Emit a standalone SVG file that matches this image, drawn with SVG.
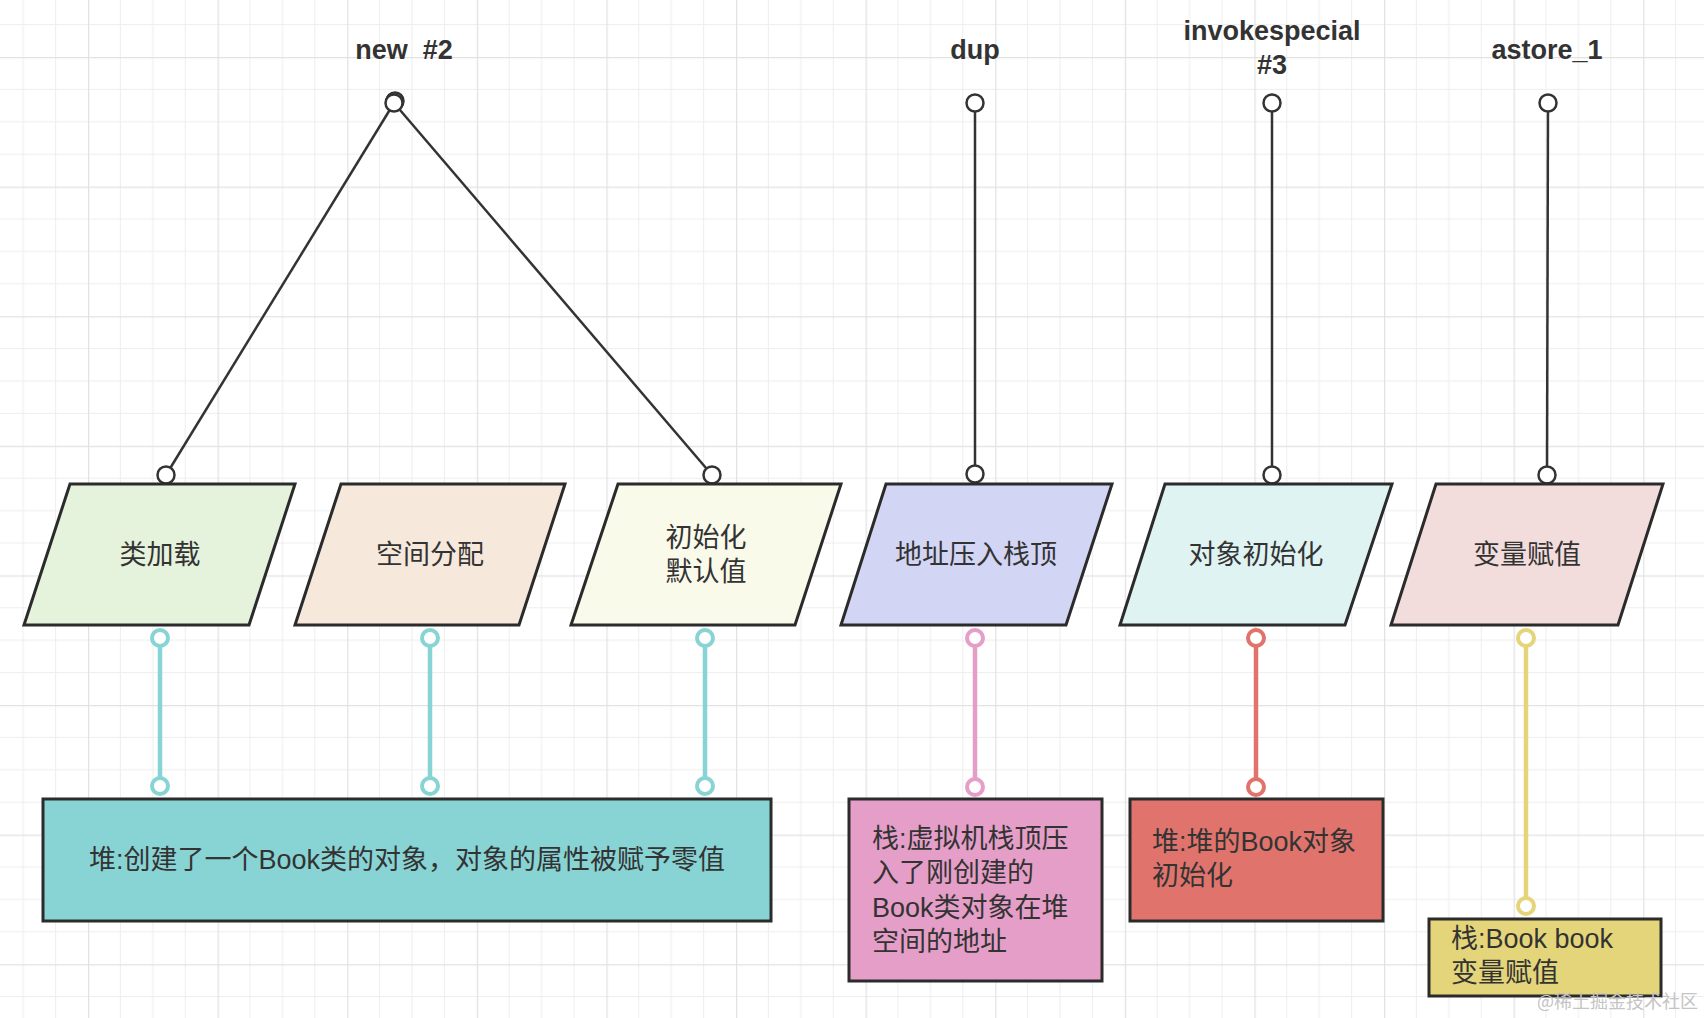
<svg xmlns="http://www.w3.org/2000/svg" width="1704" height="1018" viewBox="0 0 1704 1018">
<style>
.lbl{font-family:"Liberation Sans","Noto Sans CJK SC",sans-serif;font-weight:bold;font-size:27px;fill:#333;text-anchor:middle}
.t{font-family:"Liberation Sans","Noto Sans CJK SC",sans-serif;font-size:27px;fill:#333}
.c{text-anchor:middle}
.shape{stroke:#2b2b2b;stroke-width:3;stroke-linejoin:miter}
.blk{stroke:#333;stroke-width:2.5;fill:none}
.blkc{stroke:#333;stroke-width:2.5;fill:#fff}
.col{stroke-width:4.5;fill:none}
.colc{stroke-width:4;fill:#fff}
.teal{stroke:#88d4d4}
.pink{stroke:#e59ec7}
.red{stroke:#e0746c}
.yel{stroke:#e4d57a}
.wm{font-family:"Noto Sans CJK SC",sans-serif;font-size:18px;fill:#c4c4c4}
</style>
<defs>
<pattern id="grid" patternUnits="userSpaceOnUse" x="88" y="57" width="129.6" height="129.6">
<path d="M32.4 0V129.6M64.8 0V129.6M97.2 0V129.6M0 32.4H129.6M0 64.8H129.6M0 97.2H129.6" stroke="#eeeeee" stroke-width="1" fill="none"/>
<path d="M0.5 0V129.6M0 0.5H129.6" stroke="#e2e2e2" stroke-width="1.5" fill="none"/>
</pattern>
</defs>
<rect width="1704" height="1018" fill="#fff"/>
<rect width="1704" height="1018" fill="url(#grid)"/>

<g id="label-new"><text class="lbl" x="404" y="59" xml:space="preserve">new  #2</text></g>
<g id="label-dup"><text class="lbl" x="975" y="59">dup</text></g>
<g id="label-invokespecial"><text class="lbl" x="1272" y="40">invokespecial<tspan x="1272" y="74">#3</tspan></text></g>
<g id="label-astore"><text class="lbl" x="1547" y="59">astore_1</text></g>

<g id="connectors">
<line class="blk" x1="394" y1="103" x2="166" y2="475"/>
<line class="blk" x1="394" y1="103" x2="712" y2="475"/>
<line class="blk" x1="975" y1="103" x2="975" y2="475"/>
<line class="blk" x1="1272" y1="103" x2="1272" y2="475"/>
<line class="blk" x1="1548" y1="103" x2="1547" y2="475"/>
<circle class="blkc" cx="395" cy="101" r="8.5"/>
<circle class="blkc" cx="394" cy="103" r="8.5"/>
<circle class="blkc" cx="975" cy="103" r="8.5"/>
<circle class="blkc" cx="1272" cy="103" r="8.5"/>
<circle class="blkc" cx="1548" cy="103" r="8.5"/>
<circle class="blkc" cx="166" cy="475" r="8.5"/>
<circle class="blkc" cx="712" cy="475" r="8.5"/>
<circle class="blkc" cx="975" cy="474" r="8.5"/>
<circle class="blkc" cx="1272" cy="475" r="8.5"/>
<circle class="blkc" cx="1547" cy="475" r="8.5"/>

<line class="col teal" x1="160" y1="638" x2="160" y2="786"/>
<line class="col teal" x1="430" y1="638" x2="430" y2="786"/>
<line class="col teal" x1="705" y1="638" x2="705" y2="786"/>
<line class="col pink" x1="975" y1="638" x2="975" y2="787"/>
<line class="col red" x1="1256" y1="638" x2="1256" y2="787"/>
<line class="col yel" x1="1526" y1="638" x2="1526" y2="906"/>
<circle class="colc teal" cx="160" cy="638" r="8"/>
<circle class="colc teal" cx="160" cy="786" r="8"/>
<circle class="colc teal" cx="430" cy="638" r="8"/>
<circle class="colc teal" cx="430" cy="786" r="8"/>
<circle class="colc teal" cx="705" cy="638" r="8"/>
<circle class="colc teal" cx="705" cy="786" r="8"/>
<circle class="colc pink" cx="975" cy="638" r="8"/>
<circle class="colc pink" cx="975" cy="787" r="8"/>
<circle class="colc red" cx="1256" cy="638" r="8"/>
<circle class="colc red" cx="1256" cy="787" r="8"/>
<circle class="colc yel" cx="1526" cy="638" r="8"/>
<circle class="colc yel" cx="1526" cy="906" r="8"/>
</g>

<g id="node-leijiazai">
<polygon class="shape" points="70,484 295,484 249,625 24,625" fill="#e5f2dc"/>
<text class="t c" x="160" y="564">类加载</text>
</g>
<g id="node-kongjianfenpei">
<polygon class="shape" points="341,484 565,484 519,625 295,625" fill="#f7e8dc"/>
<text class="t c" x="430" y="564">空间分配</text>
</g>
<g id="node-chushihua">
<polygon class="shape" points="618,484 841,484 795,625 571,625" fill="#fafaea"/>
<text class="t c" x="706" y="547">初始化<tspan x="706" y="581">默认值</tspan></text>
</g>
<g id="node-dizhi">
<polygon class="shape" points="886,484 1112,484 1066,625 841,625" fill="#d3d5f5"/>
<text class="t c" x="976" y="564">地址压入栈顶</text>
</g>
<g id="node-duixiang">
<polygon class="shape" points="1165,484 1392,484 1345,625 1120,625" fill="#dff3f3"/>
<text class="t c" x="1256" y="564">对象初始化</text>
</g>
<g id="node-bianliang">
<polygon class="shape" points="1436,484 1663,484 1618,625 1391,625" fill="#f3dddc"/>
<text class="t c" x="1527" y="564">变量赋值</text>
</g>

<g id="node-heap1">
<rect class="shape" x="43" y="799" width="728" height="122" fill="#88d4d4"/>
<text class="t c" x="407" y="869">堆:创建了一个Book类的对象，对象的属性被赋予零值</text>
</g>
<g id="node-stack1">
<rect class="shape" x="849" y="799" width="253" height="182" fill="#e59ec7"/>
<text class="t" x="872" y="848">栈:虚拟机栈顶压<tspan x="872" y="882">入了刚创建的</tspan><tspan x="872" y="917">Book类对象在堆</tspan><tspan x="872" y="951">空间的地址</tspan></text>
</g>
<g id="node-heap2">
<rect class="shape" x="1130" y="799" width="253" height="122" fill="#e0746c"/>
<text class="t" x="1152" y="851">堆:堆的Book对象<tspan x="1152" y="885">初始化</tspan></text>
</g>
<g id="node-stack2">
<rect class="shape" x="1429" y="919" width="232" height="77" fill="#e4d57a"/>
<text class="t" x="1451" y="948">栈:Book book<tspan x="1451" y="982">变量赋值</tspan></text>
</g>
<text class="wm" x="1537" y="1008">@稀土掘金技术社区</text>
</svg>
